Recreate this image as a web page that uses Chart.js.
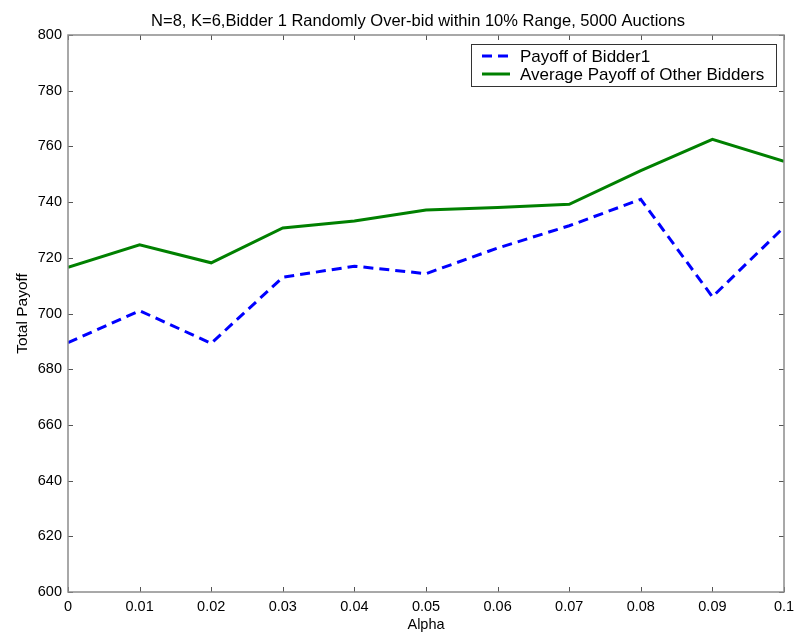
<!DOCTYPE html>
<html>
<head>
<meta charset="utf-8">
<script src="https://cdn.jsdelivr.net/npm/chart.js@4/dist/chart.umd.min.js"></script>
<style>
  html, body { margin: 0; padding: 0; background: #fff; }
  #wrap { width: 796px; height: 636px; }
</style>
</head>
<body>
<div id="wrap"><canvas id="c" width="796" height="636"></canvas></div>
<script>
const alpha = [0, 0.01, 0.02, 0.03, 0.04, 0.05, 0.06, 0.07, 0.08, 0.09, 0.1];
const bidder1Payoff = [689.5, 701, 689.3, 713, 717, 714.3, 723.5, 731.5, 741, 706, 731];
const otherBiddersPayoff = [716.6, 724.7, 718.2, 730.7, 733.2, 737.2, 738.1, 739.2, 751.3, 762.5, 754.6];
const xTicks = [0, 0.01, 0.02, 0.03, 0.04, 0.05, 0.06, 0.07, 0.08, 0.09, 0.1];
const yTicks = [600, 620, 640, 660, 680, 700, 720, 740, 760, 780, 800];
const chartTitle = 'N=8, K=6,Bidder 1 Randomly Over-bid within 10% Range, 5000 Auctions';

const FONT = '"Liberation Sans", Arial, sans-serif';
const BLUE = '#0000ff';
const GREEN = '#008000';

const toPoints = (xs, ys) => xs.map((x, i) => ({ x: x, y: ys[i] }));

// Title centred over the plot area
const plotTitle = {
  id: 'plotTitle',
  afterDraw(chart) {
    const { ctx, chartArea: a } = chart;
    ctx.save();
    ctx.font = '16.5px ' + FONT;
    ctx.fillStyle = '#000';
    ctx.textAlign = 'center';
    ctx.textBaseline = 'alphabetic';
    ctx.fillText(chartTitle, (a.left + a.right) / 2 - 8, 26);
    ctx.restore();
  }
};

// Box around the plot area with inward-pointing tick marks on all four sides
const boxTicks = {
  id: 'boxTicks',
  afterDatasetsDraw(chart) {
    const { ctx, chartArea: a, scales } = chart;
    const len = 5;
    ctx.save();
    ctx.strokeStyle = '#555';
    ctx.lineWidth = 1;
    ctx.beginPath();
    xTicks.forEach(v => {
      const px = Math.round(scales.x.getPixelForValue(v)) + 0.5;
      ctx.moveTo(px, a.bottom); ctx.lineTo(px, a.bottom - len);
      ctx.moveTo(px, a.top); ctx.lineTo(px, a.top + len);
    });
    yTicks.forEach(v => {
      const py = Math.round(scales.y.getPixelForValue(v)) + 0.5;
      ctx.moveTo(a.left, py); ctx.lineTo(a.left + len, py);
      ctx.moveTo(a.right, py); ctx.lineTo(a.right - len, py);
    });
    ctx.stroke();
    ctx.strokeStyle = '#8c8c8c';
    ctx.lineWidth = 1.5;
    ctx.strokeRect(a.left, a.top, a.right - a.left, a.bottom - a.top);
    ctx.restore();
  }
};

// Framed legend in the upper right of the plot area
const boxLegend = {
  id: 'boxLegend',
  afterDraw(chart) {
    const { ctx } = chart;
    const x0 = 471, y0 = 44, w = 305, h = 42;
    ctx.save();
    ctx.fillStyle = '#fff';
    ctx.fillRect(x0, y0, w, h);
    ctx.strokeStyle = '#333';
    ctx.lineWidth = 1;
    ctx.strokeRect(x0 + 0.5, y0 + 0.5, w, h);
    ctx.font = '17px ' + FONT;
    ctx.textBaseline = 'middle';
    ctx.fillStyle = '#000';
    chart.data.datasets.forEach((ds, i) => {
      const yy = y0 + 12 + i * 18;
      ctx.strokeStyle = ds.borderColor;
      ctx.lineWidth = 3;
      ctx.setLineDash(ds.borderDash || []);
      ctx.beginPath();
      ctx.moveTo(x0 + 11, yy); ctx.lineTo(x0 + 39, yy);
      ctx.stroke();
      ctx.setLineDash([]);
      ctx.fillText(ds.label, x0 + 49, yy + 1);
    });
    ctx.restore();
  }
};

new Chart(document.getElementById('c'), {
  type: 'line',
  data: {
    datasets: [
      {
        label: 'Payoff of Bidder1',
        data: toPoints(alpha, bidder1Payoff),
        borderColor: BLUE,
        borderWidth: 3,
        borderDash: [10, 6],
        pointRadius: 0,
        tension: 0,
        fill: false
      },
      {
        label: 'Average Payoff of Other Bidders',
        data: toPoints(alpha, otherBiddersPayoff),
        borderColor: GREEN,
        borderWidth: 3,
        pointRadius: 0,
        tension: 0,
        fill: false
      }
    ]
  },
  options: {
    responsive: false,
    animation: false,
    layout: { padding: { top: 35, right: 12, left: 0, bottom: 0 } },
    plugins: {
      legend: { display: false },
      tooltip: { enabled: false },
      title: { display: false }
    },
    scales: {
      x: {
        type: 'linear',
        min: 0,
        max: 0.1,
        afterBuildTicks(s) { s.ticks = xTicks.map(v => ({ value: v })); },
        afterFit(s) { s.height = 44; s.paddingLeft = 0; s.paddingRight = 0; },
        grid: { display: false, drawTicks: false },
        border: { display: false },
        ticks: {
          color: '#000',
          padding: 6,
          maxRotation: 0,
          font: { family: FONT, size: 14.5 },
          callback: v => String(+v.toFixed(2))
        },
        title: {
          display: true,
          text: 'Alpha',
          color: '#000',
          font: { family: FONT, size: 14.5 },
          padding: { top: 0, bottom: 2 }
        }
      },
      y: {
        type: 'linear',
        min: 600,
        max: 800,
        afterBuildTicks(s) { s.ticks = yTicks.map(v => ({ value: v })); },
        afterFit(s) { s.width = 68; s.paddingTop = 0; s.paddingBottom = 0; },
        grid: { display: false, drawTicks: false },
        border: { display: false },
        ticks: {
          color: '#000',
          padding: 6,
          font: { family: FONT, size: 14.5 }
        },
        title: {
          display: true,
          text: 'Total Payoff',
          color: '#000',
          font: { family: FONT, size: 15.5 },
          padding: { top: 13, bottom: 0 }
        }
      }
    }
  },
  plugins: [boxTicks, boxLegend, plotTitle]
});
</script>
</body>
</html>
